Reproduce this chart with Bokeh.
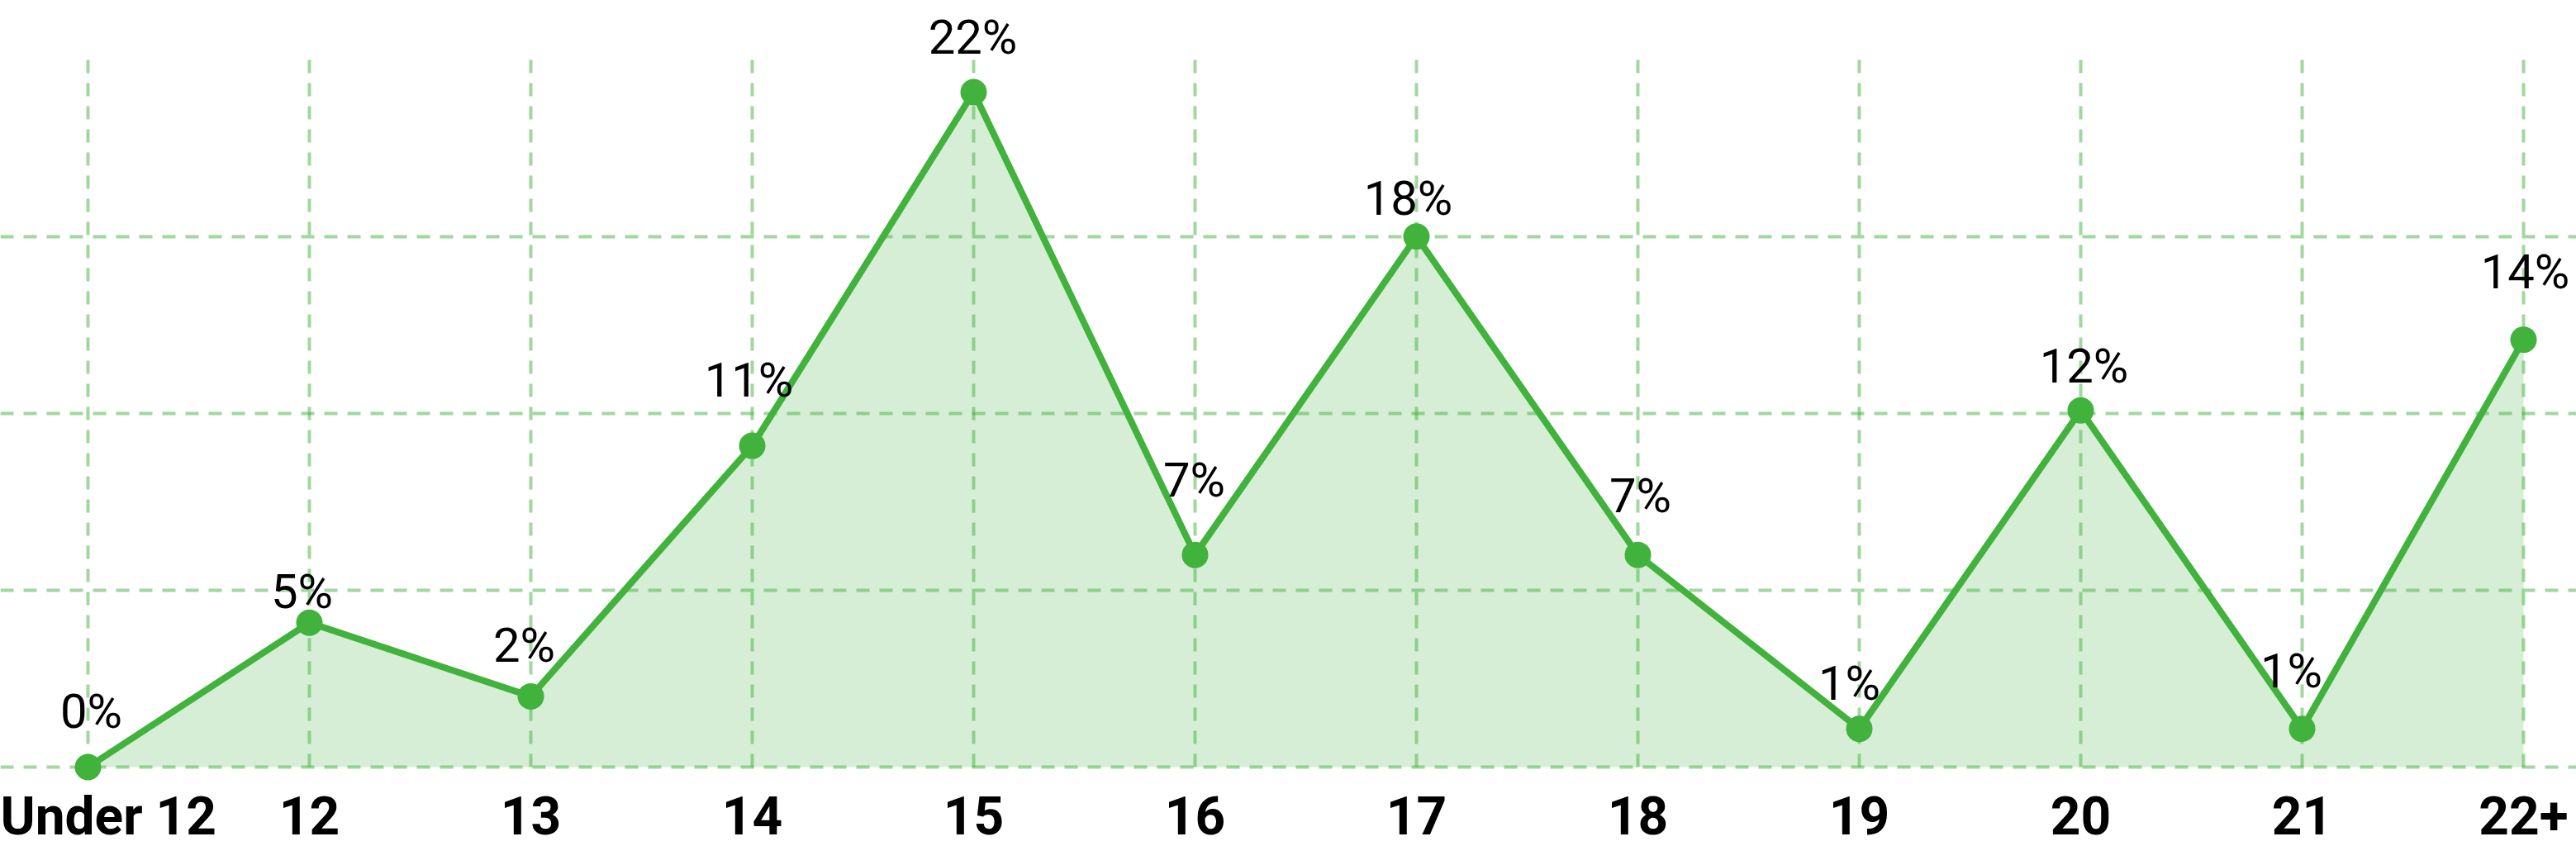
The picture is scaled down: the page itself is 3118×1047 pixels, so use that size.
from bokeh.plotting import figure
from bokeh.models import Range1d, FixedTicker, ColumnDataSource
from bokeh.core.properties import value
from bokeh.embed import file_html
from bokeh.resources import INLINE

# ---- data ----
categories = ["Under 12", "12", "13", "14", "15", "16", "17", "18", "19", "20", "21", "22+"]
shares = [0.0, 4.9, 2.4, 10.9, 22.9, 7.2, 18.0, 7.2, 1.3, 12.1, 1.3, 14.5]
share_labels = ["0%", "5%", "2%", "11%", "22%", "7%", "18%", "7%", "1%", "12%", "1%", "14%"]
grid_values = [0, 6, 12, 18]
grid_top = 24

# label placement (screen px, style only)
label_dx = [4, -9, -8, -4, -1, -1, -10, 3, -12, 4, -13, 2]
label_dy = [-68, -38, -62, -80, -66, -91, -46, -72, -55, -54, -70, -82]

LINE = "#41b23c"
FILL = "#d6eed6"
FONT = "Roboto"

x = list(range(len(categories)))
src = ColumnDataSource(dict(x=x, y=shares, label=share_labels,
                            zero=[0] * len(x), top=[grid_top] * len(x),
                            dx=label_dx, dy=label_dy))

p = figure(frame_width=3118, frame_height=948, output_backend="svg", toolbar_location=None,
           x_range=Range1d(-0.3955, 11.2388), y_range=Range1d(-0.56, 26.01),
           y_axis_location=None,
           min_border_left=0, min_border_right=0, min_border_top=0, min_border_bottom=0)
p.outline_line_color = None
p.xgrid.visible = False
p.ygrid.visible = False
p.background_fill_color = "white"
p.border_fill_color = "white"

ax = p.xaxis[0]
ax.ticker = FixedTicker(ticks=x)
ax.major_label_overrides = {i: c for i, c in zip(x, categories)}
ax.axis_line_color = None
ax.major_tick_line_color = None
ax.minor_tick_line_color = None
ax.major_tick_out = 0
ax.major_tick_in = 0
ax.major_label_text_font = FONT
ax.major_label_text_font_style = "bold"
ax.major_label_text_font_size = "64px"
ax.major_label_text_color = "black"
ax.major_label_standoff = 2

# area fill
p.varea(x="x", y1="zero", y2="y", source=src, fill_color=FILL)

# grid (drawn above fill, semi-transparent)
p.hspan(y=grid_values, line_color=LINE, line_alpha=0.5, line_width=4, line_dash="16 12")
p.segment(x0="x", y0="zero", x1="x", y1="top", source=src,
          line_color=LINE, line_alpha=0.5, line_width=4, line_dash="16 12")

# line + points
p.line(x="x", y="y", source=src, line_color=LINE, line_width=8)
p.scatter(x="x", y="y", source=src, size=32, fill_color=LINE, line_color=None)

# value labels
p.text(x="x", y="y", text="label", source=src, text_align="center",
       text_baseline="alphabetic", x_offset="dx", y_offset="dy",
       text_font=value(FONT), text_font_size="58px", text_color="black")

open("out.html", "w").write(file_html(p, INLINE))
